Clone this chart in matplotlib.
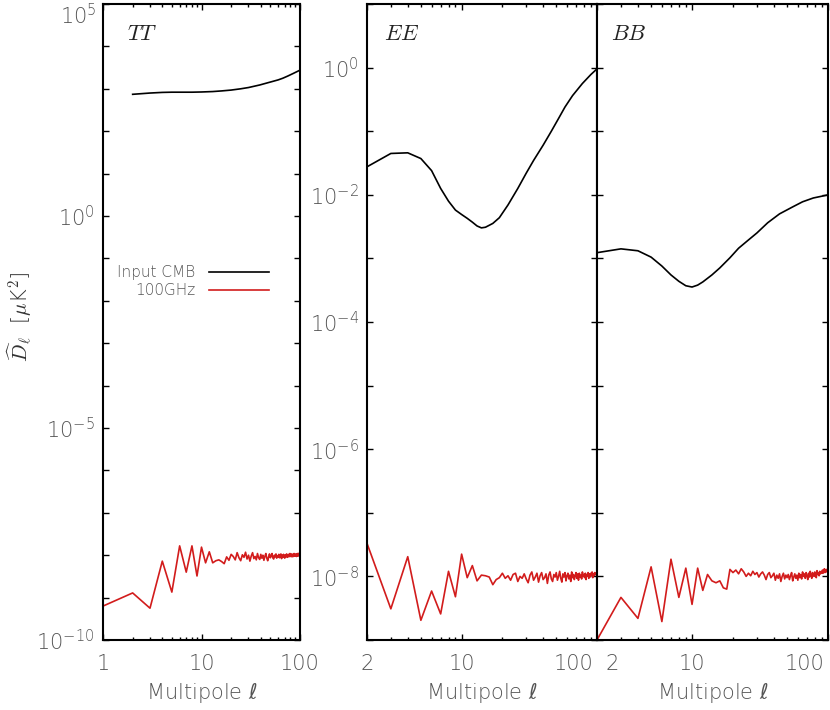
import numpy as np
import matplotlib
matplotlib.use("Agg")
import matplotlib.pyplot as plt
from matplotlib.ticker import FixedLocator, FuncFormatter, NullFormatter

# input CMB spectra, log10(D_ell / uK^2)
ell_tt = [2, 3, 4, 5, 6, 8, 10, 13, 16, 20, 25, 30, 39, 45, 52, 60, 67, 75, 85, 100]
cmb_tt = [2.87, 2.90, 2.915, 2.92, 2.92, 2.92, 2.925, 2.935, 2.95, 2.97, 3.00, 3.03,
          3.09, 3.13, 3.17, 3.21, 3.25, 3.30, 3.36, 3.44]

ell_ee = [2, 3, 4, 5, 6, 7, 8, 9, 10, 11, 12, 13, 14, 15, 17, 19, 22, 26, 30, 34,
          40, 46, 52, 58, 66, 78, 90, 100]
cmb_ee = [-1.56, -1.35, -1.34, -1.43, -1.62, -1.90, -2.10, -2.24, -2.31, -2.37, -2.43,
          -2.49, -2.52, -2.51, -2.45, -2.36, -2.16, -1.90, -1.66, -1.46, -1.22, -1.00,
          -0.80, -0.62, -0.44, -0.25, -0.11, -0.02]

ell_bb = [2, 3, 4, 5, 6, 7, 8, 9, 10, 11, 12, 14, 16, 19, 22, 26, 30, 36, 44, 55, 65,
          78, 91, 100]
cmb_bb = [-2.91, -2.85, -2.88, -2.98, -3.12, -3.26, -3.36, -3.43, -3.45, -3.42, -3.37,
          -3.26, -3.15, -2.99, -2.84, -2.71, -2.60, -2.44, -2.30, -2.19, -2.11, -2.05,
          -2.02, -2.00]

# 100GHz residual spectra, log10, one value per multipole
ell_noise_tt = np.arange(1, 101)
noise_tt = [-9.20, -8.89, -9.25, -8.14, -8.87, -7.78, -8.40, -7.78, -8.49, -7.81,
            -8.18, -7.92, -8.18, -8.13, -8.11, -8.15, -8.20, -8.04, -8.12, -7.98,
            -8.03, -8.11, -7.94, -8.06, -8.13, -7.99, -8.05, -7.93, -8.09, -8.00,
            -8.14, -8.02, -7.94, -8.08, -8.03, -8.11, -7.96, -8.06, -8.10, -7.98,
            -8.07, -8.00, -8.12, -8.03, -7.96, -8.07, -8.13, -8.04, -7.97, -8.06,
            -8.02, -7.96, -8.06, -8.09, -8.00, -8.04, -7.97, -8.07, -8.01, -8.05,
            -7.98, -8.06, -8.03, -7.97, -8.08, -8.00, -8.05, -7.98, -8.03, -8.07,
            -7.99, -8.03, -7.97, -8.05, -8.00, -7.98, -8.04, -7.99, -7.96, -8.03,
            -8.00, -7.97, -8.04, -7.98, -8.01, -8.03, -7.96, -8.02, -7.98, -8.01,
            -7.97, -8.03, -7.98, -7.96, -8.02, -7.97, -8.01, -7.95, -7.99, -7.96]

ell_noise_pol = np.arange(2, 101)
noise_ee = [-7.48, -8.51, -7.69, -8.69, -8.23, -8.59, -7.92, -8.32, -7.65,
            -8.02, -7.83, -8.07, -7.98, -7.99, -8.01, -8.13, -8.05, -8.02, -7.95,
            -8.03, -7.99, -8.06, -7.97, -7.95, -8.08, -8.00, -8.03, -7.96, -8.04,
            -8.10, -7.98, -7.93, -8.06, -8.01, -7.95, -8.09, -7.99, -7.94, -8.05,
            -8.02, -7.96, -8.11, -7.98, -7.93, -8.04, -8.08, -7.97, -8.01, -7.94,
            -8.06, -8.00, -7.92, -8.03, -8.09, -7.96, -8.01, -7.94, -8.07, -7.99,
            -7.95, -8.04, -7.98, -8.08, -7.93, -8.02, -7.97, -8.05, -7.99, -7.94,
            -8.03, -7.96, -8.06, -7.95, -8.01, -7.98, -8.04, -7.93, -8.00, -7.97,
            -8.02, -7.95, -8.05, -7.97, -7.99, -7.94, -8.03, -7.96, -8.01, -7.95,
            -7.98, -7.93, -8.02, -7.96, -7.99, -7.94, -7.97, -7.95, -7.98, -7.96]
noise_bb = [-9.00, -8.33, -8.66, -7.85, -8.71, -7.73, -8.33, -7.87, -8.44,
            -7.87, -8.22, -7.97, -8.07, -8.10, -8.07, -8.18, -8.20, -7.89, -7.94,
            -7.90, -7.96, -7.88, -7.93, -8.00, -7.95, -7.99, -7.92, -7.97, -7.94,
            -8.01, -7.96, -7.93, -7.98, -8.05, -7.97, -7.94, -8.02, -7.99, -7.95,
            -8.06, -7.98, -8.03, -7.96, -8.08, -8.00, -7.95, -8.04, -7.98, -8.02,
            -7.97, -8.05, -7.99, -7.94, -8.07, -8.01, -7.96, -8.03, -7.98, -8.06,
            -7.95, -8.02, -7.97, -8.04, -7.93, -8.00, -7.96, -8.03, -7.94, -7.99,
            -8.05, -7.95, -8.01, -7.92, -7.98, -8.03, -7.94, -7.97, -8.00, -7.93,
            -7.96, -8.02, -7.91, -7.97, -7.94, -7.99, -7.92, -7.96, -7.93, -7.95,
            -7.90, -7.95, -7.92, -7.88, -7.94, -7.91, -7.89, -7.93, -7.90, -7.92]

grey = '#555555'
red = '#d21c1c'
plt.rcParams['font.family'] = 'DejaVu Sans'
plt.rcParams['font.weight'] = 'light'
plt.rcParams['axes.labelweight'] = 'light'

fig = plt.figure(figsize=(8.3, 7.1), dpi=100)
W, H = 830., 710.
bot = (H - 640) / H
hgt = 636 / H
ax_tt = fig.add_axes([103 / W, bot, 197 / W, hgt])
ax_ee = fig.add_axes([367 / W, bot, 230 / W, hgt])
ax_bb = fig.add_axes([597 / W, bot, 231 / W, hgt])

panels = [
    (ax_tt, 'TT', ell_tt, cmb_tt, ell_noise_tt, noise_tt, (1, 100), (1e-10, 1e5), [0, -5, -10]),
    (ax_ee, 'EE', ell_ee, cmb_ee, ell_noise_pol, noise_ee, (2, 100), (1e-9, 1e1), [0, -2, -4, -6, -8]),
    (ax_bb, 'BB', ell_bb, cmb_bb, ell_noise_pol, noise_bb, (2, 100), (1e-9, 1e1), []),
]

for ax, name, l_c, c, l_n, n, xl, yl, ylab in panels:
    ax.plot(l_c, 10 ** np.array(c), color='k', lw=1.2, label='Input CMB')
    ax.plot(l_n, 10 ** np.array(n), color=red, lw=1.2, label='100GHz')
    ax.set_xscale('log')
    ax.set_yscale('log')
    ax.set_xlim(*xl)
    ax.set_ylim(*yl)

    lo, hi = int(np.log10(yl[0])), int(np.log10(yl[1]))
    ax.yaxis.set_major_locator(FixedLocator([10.0 ** e for e in range(lo, hi + 1)]))
    ax.yaxis.set_minor_locator(FixedLocator([]))
    ax.yaxis.set_major_formatter(FuncFormatter(
        lambda v, p, keep=ylab: r'$10^{%d}$' % round(np.log10(v)) if round(np.log10(v)) in keep else ''))

    if xl[0] == 1:
        majors = [1, 10, 100]
        minors = list(range(2, 10)) + list(range(20, 100, 10))
    else:
        majors = [2, 10, 100]
        minors = list(range(3, 10)) + list(range(20, 100, 10))
    ax.xaxis.set_major_locator(FixedLocator(majors))
    ax.xaxis.set_minor_locator(FixedLocator(minors))
    ax.xaxis.set_major_formatter(FuncFormatter(lambda v, p: '%d' % v))
    ax.xaxis.set_minor_formatter(NullFormatter())

    ax.tick_params(which='both', direction='in', top=True, right=True, width=1.0,
                   labelsize=15, labelcolor=grey)
    ax.tick_params(which='major', length=4.5)
    ax.tick_params(which='minor', length=2.2)
    ax.tick_params(axis='x', which='major', pad=10)
    ax.tick_params(axis='y', which='major', pad=6)
    for s in ax.spines.values():
        s.set_linewidth(1.5)

    ax.set_xlabel(r'Multipole $\ell$', fontsize=15, color=grey, labelpad=5)
    x0 = {'TT': 0.12, 'EE': 0.075, 'BB': 0.06}[name]
    ax.text(x0, 0.968, '$%s$' % name, transform=ax.transAxes, math_fontfamily='cm',
            fontsize=16, va='top', ha='left', color='#222222')

# top TT label sits a little below its tick so it stays inside the figure
ax_tt.annotate(r'$10^{5}$', xy=(0, 1e5), xycoords=('axes fraction', 'data'), xytext=(-4.5, -7),
               textcoords='offset points', ha='right', va='center_baseline', fontsize=15, color=grey)

# labels at the shared EE/BB border are nudged apart
ax_ee.xaxis.get_major_ticks()[2].label1.set_visible(False)
ax_bb.xaxis.get_major_ticks()[0].label1.set_visible(False)
ax_bb.xaxis.get_major_ticks()[2].label1.set_visible(False)
ax_ee.annotate('100', xy=(100, 0), xycoords=('data', 'axes fraction'), xytext=(-17, -10),
               textcoords='offset points', ha='center', va='top', fontsize=15, color=grey)
ax_bb.annotate('2', xy=(2, 0), xycoords=('data', 'axes fraction'), xytext=(11, -10),
               textcoords='offset points', ha='center', va='top', fontsize=15, color=grey)
ax_bb.annotate('100', xy=(100, 0), xycoords=('data', 'axes fraction'), xytext=(-17, -10),
               textcoords='offset points', ha='center', va='top', fontsize=15, color=grey)

ax_tt.legend(loc='center', bbox_to_anchor=(0.457, 0.563), frameon=False, markerfirst=False,
             fontsize=11, handlelength=3.9, handletextpad=0.9, labelspacing=0.2,
             labelcolor=grey)

fig.text(20 / W, 1 - 317 / H, r'$\widehat{D}_\ell$  [$\mu$K$^2$]', rotation=90,
         ha='center', va='center', fontsize=15, color='#333333', math_fontfamily='cm')

fig.savefig('out.png', dpi=100)
